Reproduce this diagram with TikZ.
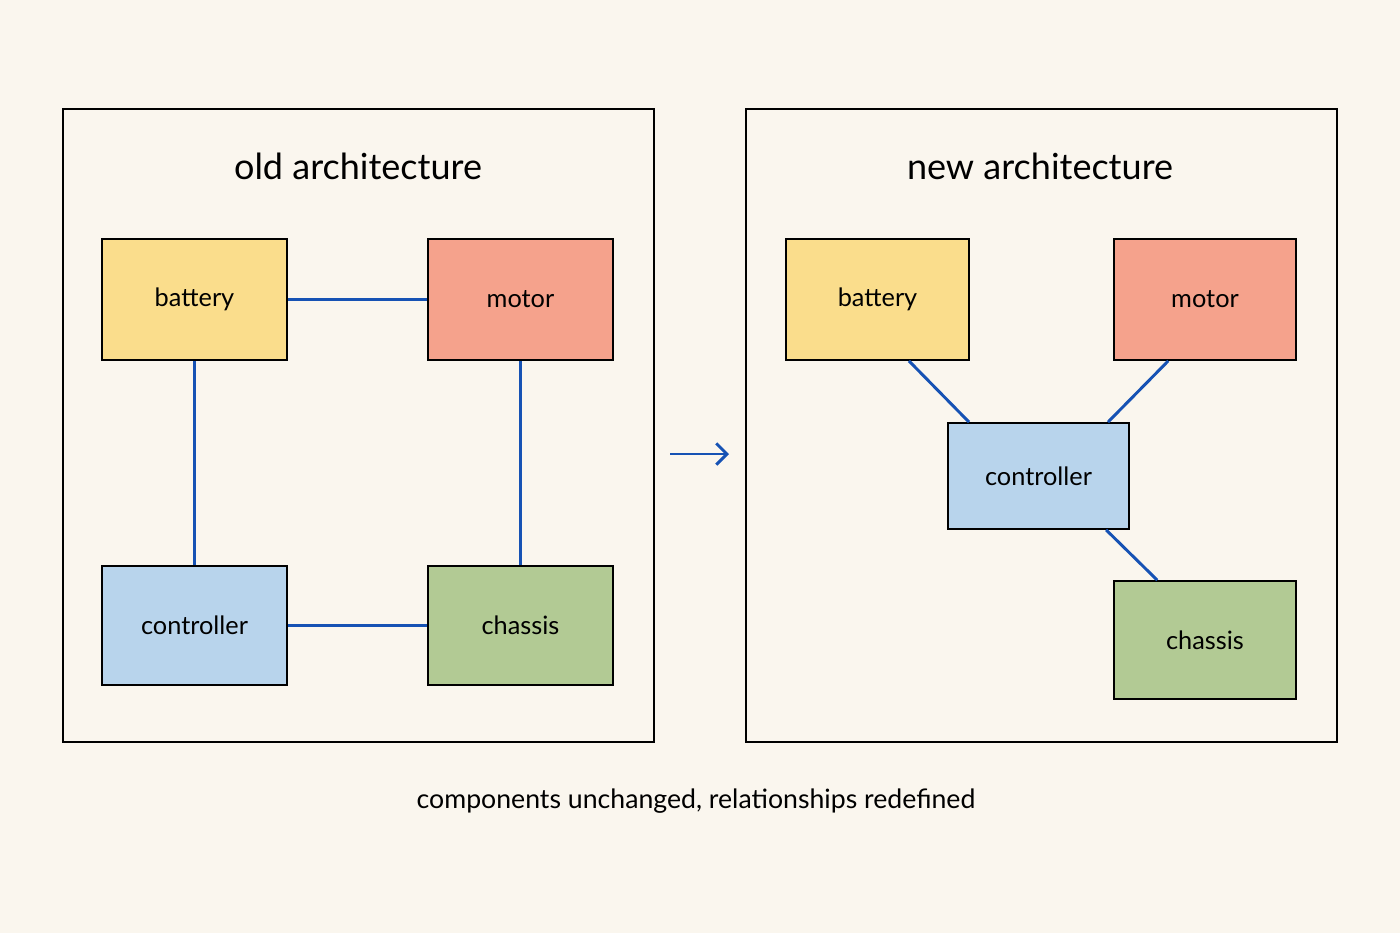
\documentclass[tikz,border=0pt]{standalone}
\usepackage{fontspec}
\setmainfont{Lato}
\usetikzlibrary{calc,arrows.meta}
\definecolor{bgcol}{RGB}{250,246,238}
\definecolor{batcol}{RGB}{250,221,140}
\definecolor{motcol}{RGB}{245,162,140}
\definecolor{ctlcol}{RGB}{184,212,236}
\definecolor{chacol}{RGB}{178,202,148}
\definecolor{linkcol}{RGB}{22,82,180}
\tikzset{
  part/.style={draw=black,line width=1.3,inner sep=0pt,font=\fontsize{19}{22}\selectfont},
  link/.style={draw=linkcol,line width=2.2},
  frame/.style={draw=black,line width=1.6}
}
\begin{document}
\begin{tikzpicture}[x=0.75pt,y=0.75pt,yscale=-1,xscale=1]
\fill[bgcol] (0,0) rectangle (1400,933);
\useasboundingbox (0,0) rectangle (1400,933);

%old architecture
\draw[frame] (63,109) rectangle (654,742);
\node[font=\fontsize{27}{30}\selectfont] (otitle) at (358,166) {old architecture};
\node[part,fill=batcol,minimum width=138.75pt,minimum height=90.75pt] (ob) at (194.5,299.5) {battery};
\node[part,fill=motcol,minimum width=138.75pt,minimum height=90.75pt] (om) at (520.5,299.5) {motor};
\node[part,fill=ctlcol,minimum width=138.75pt,minimum height=89.25pt] (oc) at (194.5,625.5) {controller};
\node[part,fill=chacol,minimum width=138.75pt,minimum height=89.25pt] (os) at (520.5,625.5) {chassis};
\draw[link] (ob) -- (om);
\draw[link] (ob) -- (oc);
\draw[link] (om) -- (os);
\draw[link] (oc) -- (os);

%transition arrow
\coordinate (af) at (670,454);
\coordinate (at) at (729,454);
\draw[link,-{Straight Barb[length=8pt,width=16pt]}] (af) -- (at);

%new architecture
\draw[frame] (746,109) rectangle (1337,742);
\node[font=\fontsize{27}{30}\selectfont] (ntitle) at (1040,166) {new architecture};
\node[part,fill=batcol,minimum width=137.25pt,minimum height=90.75pt] (nb) at (877.5,299.5) {battery};
\node[part,fill=motcol,minimum width=136.5pt,minimum height=90.75pt] (nm) at (1205,299.5) {motor};
\node[part,fill=ctlcol,minimum width=135.75pt,minimum height=79.5pt] (nc) at (1038.5,476) {controller};
\node[part,fill=chacol,minimum width=136.5pt,minimum height=88.5pt] (ns) at (1205,640) {chassis};
\draw[link] ($(nb.south west)!0.67!(nb.south east)$) -- ($(nc.north west)!0.12!(nc.north east)$);
\draw[link] ($(nm.south west)!0.30!(nm.south east)$) -- ($(nc.north west)!0.88!(nc.north east)$);
\draw[link] ($(nc.south west)!0.87!(nc.south east)$) -- ($(ns.north west)!0.24!(ns.north east)$);

%caption
\node[font=\fontsize{20}{24}\selectfont] (cap) at (696,801) {components unchanged, relationships redefined};
\end{tikzpicture}
\end{document}
